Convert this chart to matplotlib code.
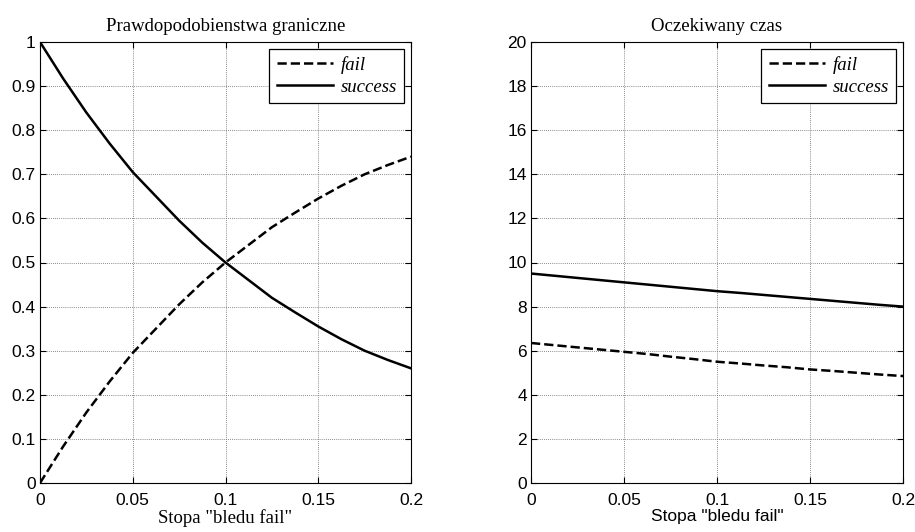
import matplotlib
matplotlib.use("Agg")
import matplotlib.pyplot as plt
from matplotlib.ticker import FuncFormatter

# Data
x = [0, 0.0125, 0.025, 0.0375, 0.05, 0.0625, 0.075, 0.0875, 0.1,
     0.1125, 0.125, 0.1375, 0.15, 0.1625, 0.175, 0.1875, 0.2]
p_fail = [0.0, 0.083, 0.16, 0.23, 0.295, 0.35, 0.405, 0.455, 0.5,
          0.54, 0.58, 0.613, 0.645, 0.674, 0.70, 0.721, 0.74]
p_success = [1.0, 0.917, 0.84, 0.77, 0.705, 0.65, 0.595, 0.545, 0.5,
             0.46, 0.42, 0.387, 0.355, 0.326, 0.30, 0.279, 0.26]
t_fail = [6.35, 6.25, 6.15, 6.05, 5.95, 5.85, 5.73, 5.62, 5.5,
          5.42, 5.33, 5.25, 5.15, 5.08, 5.0, 4.92, 4.85]
t_success = [9.5, 9.4, 9.3, 9.2, 9.1, 9.0, 8.9, 8.8, 8.7,
             8.62, 8.53, 8.44, 8.35, 8.26, 8.17, 8.08, 8.0]

titles = ["Prawdopodobienstwa graniczne", "Oczekiwany czas"]
xlabel = 'Stopa "bledu fail"'
xticks = [0, 0.05, 0.1, 0.15, 0.2]
yticks_left = [0, 0.1, 0.2, 0.3, 0.4, 0.5, 0.6, 0.7, 0.8, 0.9, 1]
yticks_right = [0, 2, 4, 6, 8, 10, 12, 14, 16, 18, 20]
legend_labels = ["fail", "success"]

fig = plt.figure(figsize=(9.15, 5.32), dpi=100)
ax1 = fig.add_axes([40/915, 1-483/532, 371/915, 441/532])
ax2 = fig.add_axes([531/915, 1-483/532, 372/915, 441/532])

def fmt(v, pos):
    return "%g" % v

def style(ax, yticks, ylim, title, xlabel_font, xlabel_size):
    ax.set_xlim(0, 0.2)
    ax.set_ylim(*ylim)
    ax.set_xticks(xticks)
    ax.set_yticks(yticks)
    ax.xaxis.set_major_formatter(FuncFormatter(fmt))
    ax.yaxis.set_major_formatter(FuncFormatter(fmt))
    ax.tick_params(direction="in", top=True, right=True, length=4, width=0.8,
                   labelsize=12.5, pad=3)
    ax.tick_params(axis="x", pad=7)
    for lbl in ax.get_xticklabels() + ax.get_yticklabels():
        lbl.set_fontfamily("Liberation Sans")
    ax.grid(True, color="#666666", linestyle=(0, (1, 1.5)), linewidth=0.6)
    for s in ax.spines.values():
        s.set_linewidth(0.8)
    ax.set_title(title, family="Liberation Serif", fontsize=13.5, pad=8)
    ax.set_xlabel(xlabel, family=xlabel_font, fontsize=xlabel_size, labelpad=1)

ax1.plot(x, p_fail, "k--", lw=1.8, label=legend_labels[0])
ax1.plot(x, p_success, "k-", lw=1.8, label=legend_labels[1])
style(ax1, yticks_left, (0, 1), titles[0], "Liberation Serif", 13.5)

ax2.plot(x, t_fail, "k--", lw=1.8, label=legend_labels[0])
ax2.plot(x, t_success, "k-", lw=1.8, label=legend_labels[1])
style(ax2, yticks_right, (0, 20), titles[1], "Liberation Sans", 12.5)

for ax in (ax1, ax2):
    leg = ax.legend(loc="upper right", fancybox=False, framealpha=1,
                    edgecolor="black", borderaxespad=0.35, handlelength=3.0,
                    prop={"family": "Liberation Serif", "style": "italic", "size": 13.5},
                    labelspacing=0.25, borderpad=0.4, handletextpad=0.4)
    leg.get_frame().set_linewidth(0.9)

fig.savefig("out.png", dpi=100)
